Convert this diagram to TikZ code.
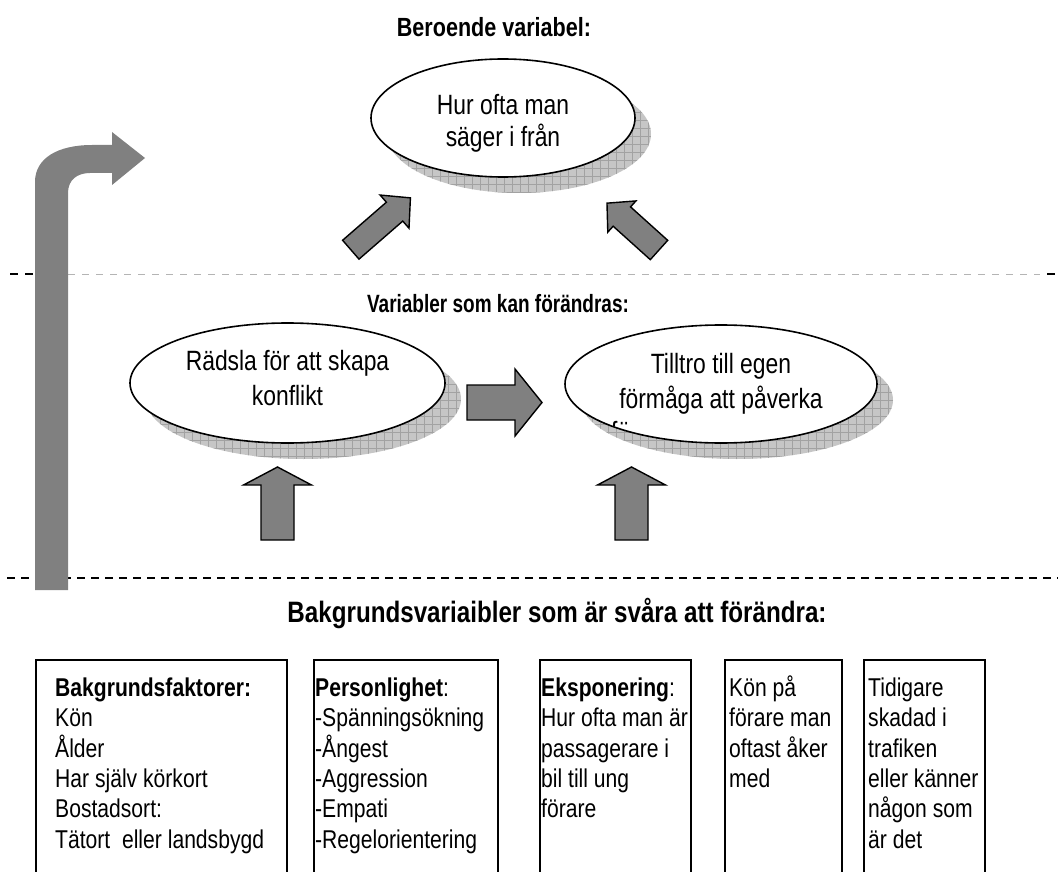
\documentclass[tikz,border=0pt]{standalone}
\usepackage{fontspec}
\setmainfont{Liberation Sans}[FakeStretch=0.82]
\newfontfamily\condensedfont{Liberation Sans}[FakeStretch=0.76]
\usetikzlibrary{shapes.geometric}

\definecolor{arrowgray}{HTML}{808080}
\definecolor{shadefill}{HTML}{C6C6C6}
\definecolor{shadegrid}{HTML}{A2A2A2}
\definecolor{lightdash}{HTML}{B4B4B4}

% block arrow: tail centre (#1,#2), direction #3 (degrees), length #4,
% body half width #5, head half width #6, head length #7
\newcommand\blockarrow[7]{%
  \begin{scope}[shift={(#1,#2)}, rotate=#3, x=1pt, y=1pt]
    \draw[blockarr] (0,-#5) -- ({#4-#7},-#5) -- ({#4-#7},-#6) -- (#4,0)
      -- ({#4-#7},#6) -- ({#4-#7},#5) -- (0,#5) -- cycle;
  \end{scope}}
% fixed first-line height so every box starts its text on the same baseline
\newcommand\firstline{\rule{0pt}{24pt}}

\begin{document}
\begin{tikzpicture}[x=1pt, y=-1pt,
  oval/.style={ellipse, draw=black, line width=1.6pt, fill=white, inner sep=0pt},
  blockarr/.style={draw=black, line width=1.4pt, fill=arrowgray, line join=miter},
  heading/.style={inner sep=0pt, anchor=base},
  ovaltext/.style={font=\fontsize{27.9}{34}\selectfont, inner sep=0pt, anchor=base},
  factorbox/.style={draw=black, line width=1.5pt, inner sep=0pt, anchor=north west},
  factortext/.style={font=\fontsize{25.75}{30.4}\selectfont, inner sep=0pt, anchor=north west, align=left},
]
\useasboundingbox (0,0) rectangle (1061,872);
\clip (0,0) rectangle (1061,872);
\fill[white] (0,0) rectangle (1061,872);

% ---------- section headings ----------
\node[heading, font=\fontsize{26.3}{30}\selectfont\bfseries] (depvar) at (494,37) {Beroende variabel:};
\node[heading, font=\condensedfont\fontsize{25}{30}\selectfont\bfseries] (changevar) at (498,312) {Variabler som kan förändras:};
\node[heading, font=\fontsize{29.5}{30}\selectfont\bfseries] (fixedvar) at (557,622) {Bakgrundsvariaibler som är svåra att förändra:};

% ---------- section separators ----------
\draw[lightdash, line width=1pt, dash pattern=on 7pt off 7pt] (68,274) -- (1040,274);
\draw[black, line width=2pt, dash pattern=on 8pt off 7pt] (10,274) -- (34,274);
\draw[black, line width=2pt] (1047,274) -- (1055,274);
\draw[black, line width=1.5pt, dash pattern=on 8pt off 6pt] (7,578) -- (1058,578);

% ---------- hatched drop shadows of the ovals ----------
\foreach \cx/\cy/\rx/\ry in {503/118/132/59, 287.5/383/157.5/60, 721/384/156/59} {
  \begin{scope}
    \clip (\cx+16,\cy+16) ellipse [x radius=\rx, y radius=\ry];
    \fill[shadefill] (\cx-200,\cy-100) rectangle (\cx+250,\cy+120);
    \draw[shadegrid, line width=0.7pt, step=8pt] (\cx-200,\cy-100) grid (\cx+250,\cy+120);
  \end{scope}
}

% ---------- ovals ----------
\node[oval, minimum width=264pt, minimum height=118pt] (often) at (503,118) {};
\node[oval, minimum width=315pt, minimum height=120pt] (fear) at (287.5,383) {};
\node[oval, minimum width=312pt, minimum height=118pt] (trust) at (721,384) {};

\node[ovaltext] (often1) at (503,115) {Hur ofta man};
\node[ovaltext] (often2) at (503,147) {säger i från};
\node[ovaltext] (fear1) at (287.5,370) {Rädsla för att skapa};
\node[ovaltext] (fear2) at (287.5,405) {konflikt};
\node[ovaltext] (trust1) at (721,373) {Tilltro till egen};
\node[ovaltext] (trust2) at (721,408) {förmåga att påverka};
\begin{scope}
  \clip (560,410) rectangle (880,425.5);
  \node[ovaltext, anchor=base west] (trust3) at (611,441) {föraren};
\end{scope}

% ---------- block arrows ----------
\blockarrow{350.8}{249.7}{41}{79}{12.5}{22}{21}
\blockarrow{659}{250}{138}{70}{13}{21}{20}
\blockarrow{467}{402.5}{0}{75}{17.5}{33.5}{27}
\blockarrow{277.5}{540}{90}{73}{16.5}{34}{18}
\blockarrow{631.5}{540}{90}{73}{16.5}{34}{18}

% ---------- bent arrow on the left ----------
\fill[arrowgray] (35,590) -- (35,182)
  .. controls (35,158) and (58,145) .. (92,145)
  -- (112,145) -- (112,132) -- (145,158) -- (112,185) -- (112,173) -- (90,173)
  .. controls (77,173) and (68,180) .. (68,193) -- (68,590) -- cycle;

% ---------- background factor boxes ----------
\node[factorbox, minimum width=251pt, minimum height=240pt] (bgbox) at (35,659) {};
\node[factorbox, minimum width=184pt, minimum height=240pt] (persbox) at (313,659) {};
\node[factorbox, minimum width=151pt, minimum height=240pt] (expbox) at (539,659) {};
\node[factorbox, minimum width=117pt, minimum height=240pt] (drvbox) at (724,659) {};
\node[factorbox, minimum width=121pt, minimum height=240pt] (injbox) at (863,659) {};

\node[factortext] (bgtext) at (55,672) {\firstline\textbf{Bakgrundsfaktorer:}\\Kön\\Ålder\\Har själv körkort\\Bostadsort:\\Tätort\ \ eller landsbygd};
\node[factortext] (perstext) at (315,672) {\firstline\textbf{Personlighet}:\\-Spänningsökning\\-Ångest\\-Aggression\\-Empati\\-Regelorientering};
\node[factortext] (exptext) at (541,672) {\firstline\textbf{Eksponering}:\\Hur ofta man är\\passagerare i\\bil till ung\\förare};
\node[factortext] (drvtext) at (729,672) {\firstline Kön på\\förare man\\oftast åker\\med};
\node[factortext] (injtext) at (868,672) {\firstline Tidigare\\skadad i\\trafiken\\eller känner\\någon som\\är det};
\end{tikzpicture}
\end{document}
